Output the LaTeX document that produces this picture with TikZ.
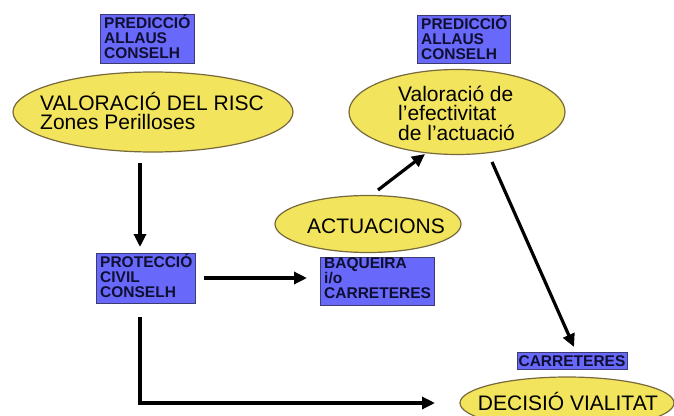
\documentclass[tikz,border=0pt]{standalone}
\usepackage{fontspec}
\setmainfont{Liberation Sans}
\usetikzlibrary{arrows.meta,shapes.geometric}
\definecolor{boxblue}{RGB}{104,104,250}
\definecolor{boxedge}{RGB}{60,60,110}
\definecolor{boxtext}{RGB}{15,15,50}
\definecolor{ellyel}{RGB}{242,228,92}
\definecolor{elledge}{RGB}{120,105,60}
\tikzset{
  x=1pt, y=-1pt,
  bluebox/.style={draw=boxedge, fill=boxblue, line width=0.8pt, inner sep=0pt},
  boxtxt/.style={font=\fontsize{15.5}{14.8}\selectfont\bfseries, text=boxtext, align=left, anchor=north west, inner sep=0pt},
  yell/.style={ellipse, draw=elledge, fill=ellyel, line width=1.2pt, inner sep=0pt},
  elltxt/.style={font=\fontsize{21}{19.5}\selectfont, align=left, inner sep=0pt},
  arr/.style={line width=3.2pt, -{Triangle[length=13pt,width=12pt]}},
}
\begin{document}
\begin{tikzpicture}
\useasboundingbox (0,0) rectangle (674,415);
\fill[white] (0,0) rectangle (674,415);
% boxes
\node[bluebox, minimum width=94pt, minimum height=49pt, anchor=north west] (p1) at (100,14) {};
\node[boxtxt] (p1t) at (104,14.5) {PREDICCIÓ\\ALLAUS\\CONSELH};
\node[bluebox, minimum width=93pt, minimum height=48pt, anchor=north west] (p2) at (417,15) {};
\node[boxtxt] (p2t) at (421,15.5) {PREDICCIÓ\\ALLAUS\\CONSELH};
\node[bluebox, minimum width=99pt, minimum height=50pt, anchor=north west] (pc) at (96,253) {};
\node[boxtxt] (pct) at (100,253.5) {PROTECCIÓ\\CIVIL\\CONSELH};
\node[bluebox, minimum width=114pt, minimum height=48pt, anchor=north west] (bq) at (320,257) {};
\node[boxtxt] (bqt) at (324,257.5) {BAQUEIRA\\i/o\\CARRETERES};
\node[bluebox, minimum width=110pt, minimum height=17pt, anchor=north west] (cr) at (517,352) {};
\node[boxtxt, anchor=center] (crt) at (572,361) {CARRETERES};
% ellipses
\node[yell, minimum width=280pt, minimum height=80pt] (vr) at (153,112) {};
\node[elltxt, anchor=west] (vrt) at (40,111) {VALORACIÓ DEL RISC\\Zones Perilloses};
\node[yell, minimum width=216pt, minimum height=85pt] (ve) at (457,112) {};
\node[elltxt, anchor=west] (vet) at (398,113) {Valoració de\\l’efectivitat\\de l’actuació};
\node[yell, minimum width=186pt, minimum height=57pt] (ac) at (368,224) {};
\node[elltxt] (act) at (376,226) {ACTUACIONS};
\node[yell, minimum width=214pt, minimum height=52pt] (dv) at (567,403) {};
\node[elltxt] (dvt) at (568,401) {DECISIÓ VIALITAT};
% connectors
\coordinate (a1s) at (140,163);
\coordinate (a1e) at (140,247);
\draw[arr] (a1s) -- (a1e);
\coordinate (a2s) at (204,278);
\coordinate (a2e) at (307,278);
\draw[arr] (a2s) -- (a2e);
\coordinate (a3s) at (378,190);
\coordinate (a3e) at (425,154);
\draw[arr] (a3s) -- (a3e);
\coordinate (a4s) at (492,162);
\coordinate (a4e) at (574,347);
\draw[arr] (a4s) -- (a4e);
\coordinate (a5s) at (140,317);
\coordinate (a5e) at (435,403);
\draw[arr] (a5s) |- (a5e);
\end{tikzpicture}
\end{document}
